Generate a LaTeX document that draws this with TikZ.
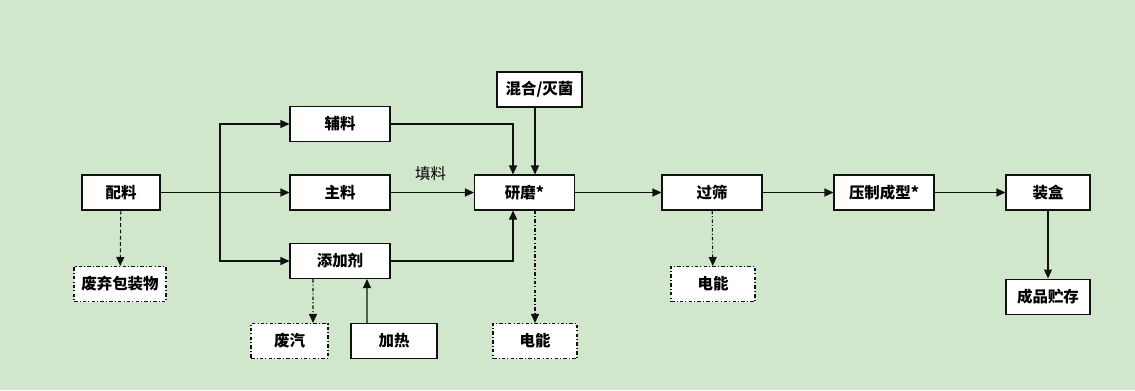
\documentclass[tikz,border=0pt]{standalone}
\usepackage{fontspec}
\setmainfont{Liberation Sans}
\newfontfamily\cjk{Noto Sans CJK SC}
\usetikzlibrary{arrows.meta,positioning}
\definecolor{Meadow}{HTML}{D0E7CC}
\definecolor{Ink}{HTML}{111111}
\tikzset{
  box/.style={draw=Ink,fill=white,line width=.6pt,minimum width=2cm,minimum height=.7cm,inner sep=0pt,font=\cjk\bfseries\fontsize{8.8}{10}\selectfont},
  sidebox/.style={box,dash pattern=on 2pt off 1.2pt on .6pt off 1.2pt},
  flow/.style={-{Triangle[length=1.8mm,width=1.6mm]},draw=Ink,line width=.6pt},
  plainline/.style={draw=Ink,line width=.6pt},
  lossflow/.style={flow,dash pattern=on 2pt off 1.2pt on .6pt off 1.2pt},
  dashflow/.style={flow,dash pattern=on 2.2pt off 1.4pt}
}
\begin{document}
\begin{tikzpicture}[x=.02cm,y=-.02cm]
      \path[fill=Meadow] (0,0) rectangle (1135,390);
      % main row
      \node[box,minimum width=1.56cm] (pl) at (121,192.5) {配料};
      \node[box] (zl) at (340,192.5) {主料};
      \node[box] (fl) at (340,124) {辅料};
      \node[box] (tj) at (340,261) {添加剂};
      \node[box] (ym) at (524.5,192.5) {研磨*};
      \node[box,minimum width=1.7cm] (hh) at (539.5,89.5) {混合/灭菌};
      \node[box] (gs) at (712,192.5) {过筛};
      \node[box] (yz) at (884,192.5) {压制成型*};
      \node[box,minimum width=1.68cm] (zh) at (1048,192.5) {装盒};
      \node[box,minimum width=1.68cm,below=1.36cm of zh] (cp) {成品贮存};
      % side inputs and losses
      \node[sidebox,minimum width=1.84cm] (fq) at (120,284) {废弃包装物};
      \node[sidebox,minimum width=1.54cm] (fqi) at (289.5,341) {废汽};
      \node[box,minimum width=1.72cm] (jr) at (394,341) {加热};
      \node[sidebox,minimum width=1.68cm] (dn1) at (535,341) {电能};
      \node[sidebox,minimum width=1.68cm] (dn2) at (713,284) {电能};
      \coordinate (fork) at (220,192.5);
      \draw[plainline] (pl) -- (fork);
      \draw[flow] (fork) |- (fl);
      \draw[flow] (fork) -- (zl);
      \draw[flow] (fork) |- (tj);
      \draw[flow] (zl) -- node[above=3pt,pos=.48,font=\cjk\fontsize{8.8}{10}\selectfont] {填料} (ym);
      \draw[flow] (fl.east) -| ([xshift=-.23cm]ym.north);
      \draw[flow] (tj.east) -| ([xshift=-.23cm]ym.south);
      \draw[flow] (hh.south -| dn1) -- (ym.north -| dn1);
      \draw[flow] (ym) -- (gs);
      \draw[flow] (gs) -- (yz);
      \draw[flow] (yz) -- (zh);
      \draw[flow] (zh) -- (cp);
      \draw[flow] ([xshift=-.54cm]jr.north) -- ([xshift=.54cm]tj.south);
      \draw[dashflow] (pl) -- (fq);
      \draw[lossflow] ([xshift=-.54cm]tj.south) -- ([xshift=.47cm]fqi.north);
      \draw[lossflow] (ym.south -| dn1) -- (dn1);
      \draw[lossflow] (gs) -- (dn2);
    \end{tikzpicture}
\end{document}
